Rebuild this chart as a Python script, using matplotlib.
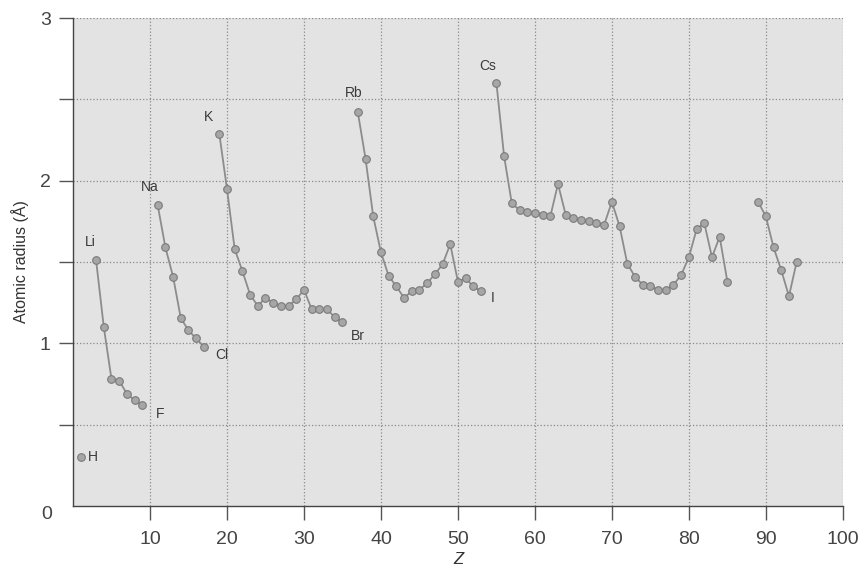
import matplotlib
matplotlib.use("Agg")
import matplotlib.pyplot as plt
import numpy as np

# atomic radii, one run per period
z_h = [1]
r_h = [0.30]

z_p2 = [3, 4, 5, 6, 7, 8, 9]
r_p2 = [1.51, 1.10, 0.78, 0.77, 0.69, 0.65, 0.62]

z_p3 = [11, 12, 13, 14, 15, 16, 17]
r_p3 = [1.85, 1.59, 1.41, 1.155, 1.08, 1.03, 0.98]

z_p4 = list(range(19, 36))
r_p4 = [2.29, 1.95, 1.58, 1.445, 1.30, 1.23, 1.28, 1.25, 1.23, 1.23,
        1.27, 1.33, 1.21, 1.21, 1.21, 1.16, 1.13]

z_p5 = list(range(37, 54))
r_p5 = [2.42, 2.135, 1.78, 1.56, 1.415, 1.35, 1.28, 1.32, 1.33, 1.37,
        1.425, 1.485, 1.61, 1.38, 1.40, 1.35, 1.32]

z_p6 = list(range(55, 86))
r_p6 = [2.60, 2.15, 1.86, 1.82, 1.81, 1.80, 1.79, 1.78, 1.98, 1.79,
        1.77, 1.76, 1.75, 1.74, 1.73, 1.87, 1.72, 1.49, 1.41, 1.36,
        1.35, 1.33, 1.33, 1.36, 1.42, 1.53, 1.70, 1.74, 1.53, 1.655, 1.38]

z_p7 = [89, 90, 91, 92, 93, 94]
r_p7 = [1.87, 1.78, 1.59, 1.45, 1.29, 1.50]

# element labels: symbol, Z, radius, offset in points, alignment
labels = [
    ('H', 1, 0.30, (5, 0), 'left'),
    ('Li', 3, 1.51, (-4, 13), 'center'),
    ('F', 9, 0.62, (10, -6), 'left'),
    ('Na', 11, 1.85, (-6, 13), 'center'),
    ('Cl', 17, 0.98, (8, -6), 'left'),
    ('K', 19, 2.29, (-8, 12), 'center'),
    ('Br', 35, 1.13, (6, -10), 'left'),
    ('Rb', 37, 2.42, (-3, 14), 'center'),
    ('I', 53, 1.32, (7, -5), 'left'),
    ('Cs', 55, 2.60, (-6, 12), 'center'),
]

plt.rcParams['font.family'] = ['Liberation Sans', 'DejaVu Sans']

fig = plt.figure(figsize=(8.64, 5.81), dpi=100)
ax = fig.add_axes([0.0845, 0.129, 0.891, 0.840])
ax.set_facecolor('#e3e3e3')

line_kw = dict(color='#8c8c8c', lw=1.3, marker='o', ms=5.5,
               mfc='#a6a6a6', mec='#7a7a7a', mew=0.8)
for zs, rs in [(z_h, r_h), (z_p2, r_p2), (z_p3, r_p3), (z_p4, r_p4),
               (z_p5, r_p5), (z_p6, r_p6), (z_p7, r_p7)]:
    ax.plot(zs, rs, **line_kw)

for sym, z, r, off, ha in labels:
    ax.annotate(sym, (z, r), xytext=off, textcoords='offset points',
                ha=ha, va='center', fontsize=10, color='#3a3a3a')

ax.set_xlim(0, 100)
ax.set_ylim(0, 3)
ax.set_xticks(np.arange(10, 101, 10))
ax.set_yticks(np.arange(0.5, 3.01, 0.5))
ax.set_yticklabels(['', '1', '', '2', '', '3'])
# zero sits below the corner, no tick there
ax.annotate('0', xy=(0, 0), xycoords='axes fraction', xytext=(-19, -6),
            textcoords='offset points', ha='center', va='center',
            fontsize=14, color='#444444')

ax.grid(True, ls=':', color='#8a8a8a', lw=0.9)
ax.set_axisbelow(True)
for s in ['top', 'right']:
    ax.spines[s].set_visible(False)
for s in ['left', 'bottom']:
    ax.spines[s].set_color('#444444')
    ax.spines[s].set_linewidth(1.0)
ax.tick_params(axis='both', direction='out', length=10, width=1,
               color='#555555', labelcolor='#444444', labelsize=14)
ax.tick_params(axis='x', pad=8)
ax.tick_params(axis='y', pad=6)

ax.set_ylabel('Atomic radius (Å)', fontsize=11.5, color='#333333', labelpad=8)
ax.set_xlabel('Z', fontsize=12, style='italic', color='#333333', labelpad=3)

fig.savefig('out.png', dpi=100, facecolor='white')
